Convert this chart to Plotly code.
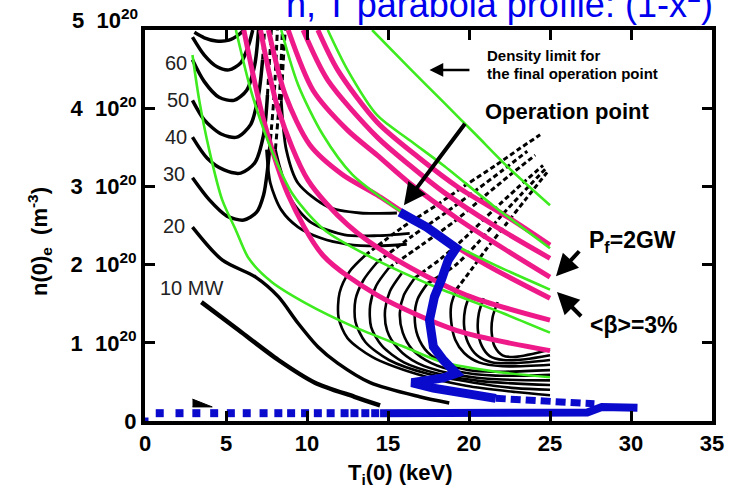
import plotly.graph_objects as go

# ---------------- data: T_i(0) in keV, n(0)_e in 10^20 m^-3 ----------------
# fusion power contours (magenta)
pf1_T = [6.10, 7.32, 8.84, 10.98, 14.33, 19.21, 25.0]
pf1_n = [5.00, 3.85, 2.89, 2.12, 1.61, 1.16, 0.90]
pf2_T = [7.13, 8.23, 10.06, 12.50, 15.55, 19.82, 25.0]
pf2_n = [5.00, 3.98, 3.08, 2.51, 2.06, 1.61, 1.29]
pf3_T = [7.62, 8.66, 10.18, 12.20, 14.33, 17.38, 21.04, 25.0]
pf3_n = [5.00, 4.17, 3.53, 3.15, 2.89, 2.47, 2.00, 1.57]
pf4_T = [8.84, 10.37, 12.50, 14.33, 16.34, 19.21, 22.26, 25.0]
pf4_n = [5.00, 4.23, 3.72, 3.40, 3.04, 2.60, 2.19, 1.84]
pf5_T = [9.76, 11.28, 14.33, 16.34, 18.41, 21.46, 25.0]
pf5_n = [5.00, 4.36, 3.63, 3.27, 2.93, 2.51, 2.08]
pf6_T = [10.67, 11.89, 14.33, 16.95, 19.39, 22.44, 25.0]
pf6_n = [5.00, 4.49, 3.82, 3.36, 2.98, 2.60, 2.25]

# beta contours (green)
b1_T = [2.93, 3.35, 3.96, 4.76, 5.61, 6.40, 7.80, 9.88, 12.93, 15.98, 18.41, 21.65, 25.0]
b1_n = [4.68, 4.10, 3.47, 2.83, 2.44, 2.08, 1.78, 1.51, 1.20, 0.95, 0.75, 0.63, 0.56]
b2_T = [5.61, 6.59, 7.80, 9.15, 11.10, 13.90, 17.99, 22.07, 25.0]
b2_n = [5.00, 4.19, 3.47, 2.89, 2.44, 2.10, 1.71, 1.38, 1.13]
b3_T = [8.41, 9.45, 10.98, 12.80, 15.37, 18.60, 21.65, 25.0]
b3_n = [5.00, 4.30, 3.66, 3.15, 2.74, 2.31, 1.99, 1.68]
b4_T = [11.28, 12.50, 14.33, 16.34, 18.41, 21.46, 25.0]
b4_n = [5.00, 4.49, 3.91, 3.59, 3.27, 2.76, 2.21]
b5_T = [14.02, 16.34, 18.41, 20.43, 22.44, 25.0]
b5_n = [5.00, 4.51, 4.08, 3.66, 3.24, 2.76]

# auxiliary power contours, low-T side (black)
p80_T = [3.05, 3.66, 4.39, 5.18, 5.79, 6.10]
p80_n = [4.97, 4.90, 4.86, 4.87, 4.94, 5.00]
p70_T = [2.93, 3.66, 4.45, 5.18, 5.91, 6.40, 6.65]
p70_n = [4.91, 4.68, 4.53, 4.49, 4.58, 4.81, 5.00]
p60_T = [2.93, 3.66, 4.57, 5.49, 6.28, 6.77, 7.01]
p60_n = [4.62, 4.34, 4.14, 4.10, 4.23, 4.55, 5.00]
p50_T = [2.93, 3.66, 4.70, 5.67, 6.52, 7.01, 7.26]
p50_n = [4.10, 3.85, 3.67, 3.63, 3.79, 4.17, 4.62]
p40_T = [2.93, 3.84, 4.88, 5.91, 6.77, 7.32, 7.56]
p40_n = [3.63, 3.36, 3.21, 3.17, 3.30, 3.66, 4.17]
p30_T = [2.93, 3.96, 5.06, 6.10, 6.89, 7.32, 7.56, 7.74]
p30_n = [3.11, 2.83, 2.62, 2.57, 2.67, 2.89, 3.21, 3.59]
p20_T = [2.93, 4.76, 6.83, 8.23, 9.45, 10.67, 11.89, 13.90, 16.95, 18.78]
p20_n = [2.48, 2.06, 1.84, 1.59, 1.25, 0.95, 0.74, 0.49, 0.31, 0.23]
p10_T = [3.48, 5.79, 8.23, 10.49, 12.93, 14.51]
p10_n = [1.52, 1.16, 0.78, 0.49, 0.31, 0.20]

# near-ignition (dashed) branches
v1_T = [7.26, 7.38]
v1_n = [4.62, 5.00]
v2_T = [7.56, 7.80]
v2_n = [4.17, 5.00]
v3_T = [7.74, 7.99, 8.17]
v3_n = [3.59, 4.23, 5.00]
v4_T = [8.05, 8.29, 8.48]
v4_n = [3.47, 4.10, 5.00]
v5_T = [8.41, 8.54, 8.66]
v5_n = [4.10, 4.62, 5.00]

# high-T side branches
r1_T = [8.41, 8.72, 9.45, 11.28, 13.29, 15.55]
r1_n = [4.10, 3.47, 3.04, 2.74, 2.66, 2.66]
r2_T = [8.05, 8.29, 9.02, 10.24, 12.32, 14.33, 16.34]
r2_n = [3.47, 3.27, 2.83, 2.54, 2.38, 2.37, 2.40]
r3_T = [7.50, 7.74, 8.41, 9.45, 10.85, 12.50, 14.33, 16.16]
r3_n = [3.47, 3.04, 2.70, 2.48, 2.34, 2.26, 2.24, 2.26]

# nested contours around the operating region
c1_T = [13.60, 12.62, 12.01, 11.95, 12.50, 14.02, 16.77, 19.82, 22.87, 25.0]
c1_n = [2.12, 1.91, 1.64, 1.32, 1.06, 0.82, 0.60, 0.45, 0.37, 0.33]
c2_T = [14.33, 13.48, 12.99, 12.99, 13.60, 15.06, 17.50, 20.30, 22.87, 25.0]
c2_n = [2.03, 1.80, 1.55, 1.27, 1.01, 0.78, 0.60, 0.49, 0.42, 0.40]
c3_T = [15.06, 14.27, 13.90, 13.96, 14.63, 15.98, 18.17, 20.73, 25.0]
c3_n = [1.96, 1.73, 1.48, 1.20, 0.96, 0.75, 0.60, 0.51, 0.46]
c4_T = [15.85, 15.12, 14.82, 14.94, 15.61, 16.83, 18.78, 21.16, 25.0]
c4_n = [1.89, 1.66, 1.42, 1.16, 0.93, 0.74, 0.61, 0.54, 0.52]
c5_T = [16.65, 15.98, 15.73, 15.91, 16.52, 17.68, 19.39, 21.65, 25.0]
c5_n = [1.83, 1.61, 1.38, 1.13, 0.91, 0.74, 0.63, 0.58, 0.59]
c6_T = [17.44, 16.83, 16.65, 16.83, 17.44, 18.48, 20.00, 22.13, 25.0]
c6_n = [1.76, 1.56, 1.34, 1.09, 0.88, 0.74, 0.65, 0.63, 0.65]
c7_T = [19.21, 18.90, 18.90, 19.15, 19.70, 20.61, 22.07, 25.0]
c7_n = [1.68, 1.48, 1.27, 1.04, 0.87, 0.75, 0.70, 0.72]
c8_T = [20.06, 19.76, 19.70, 19.94, 20.49, 21.40, 22.87, 25.0]
c8_n = [1.62, 1.43, 1.21, 1.00, 0.84, 0.75, 0.74, 0.78]
c9_T = [20.91, 20.61, 20.55, 20.79, 21.28, 22.13, 23.48, 25.0]
c9_n = [1.57, 1.38, 1.16, 0.96, 0.83, 0.78, 0.79, 0.84]
c10_T = [21.77, 21.46, 21.40, 21.59, 22.07, 22.87, 25.0]
c10_n = [1.52, 1.33, 1.13, 0.95, 0.84, 0.82, 0.91]

# dashed upper parts (hatched cone)
d1_T = [13.60, 15.85, 17.99, 19.82, 21.65, 23.17, 24.39]
d1_n = [2.12, 2.47, 2.76, 3.02, 3.27, 3.49, 3.66]
d2_T = [15.06, 17.07, 19.21, 21.04, 22.56, 24.09]
d2_n = [1.96, 2.25, 2.57, 2.89, 3.15, 3.40]
d3_T = [16.65, 18.29, 19.94, 21.52, 22.99, 24.57]
d3_n = [1.83, 2.08, 2.38, 2.70, 2.98, 3.27]
d4_T = [19.21, 20.12, 21.04, 22.26, 23.48, 24.82]
d4_n = [1.68, 1.93, 2.19, 2.51, 2.83, 3.18]
d5_T = [14.33, 16.46, 18.60, 20.43, 22.10, 23.60]
d5_n = [2.03, 2.36, 2.67, 2.95, 3.21, 3.45]
d6_T = [17.44, 19.21, 20.55, 21.89, 23.23, 24.70]
d6_n = [1.76, 2.00, 2.28, 2.60, 2.90, 3.22]

# operation path (blue)
op_T = [15.73, 17.38, 19.21, 18.72, 18.29, 17.87, 17.56, 17.80, 18.41, 19.21,
        18.41, 16.95, 16.46, 17.80, 20.00, 21.65]
op_n = [2.67, 2.48, 2.21, 2.06, 1.80, 1.59, 1.29, 0.95, 0.78, 0.61,
        0.55, 0.52, 0.49, 0.42, 0.36, 0.29]
opt_T = [21.65, 25.0, 27.74]
opt_n = [0.29, 0.26, 0.22]
st_T = [0.91, 2.13, 3.17, 4.27, 5.30, 6.28, 7.32, 8.23, 9.02, 9.88,
        10.67, 11.46, 12.32, 12.93, 13.60, 14.21]
st_n = [0.10, 0.10, 0.10, 0.10, 0.10, 0.10, 0.10, 0.10, 0.10, 0.10,
        0.10, 0.10, 0.10, 0.10, 0.10, 0.10]
bt_T = [14.51, 20.0, 27.3, 28.2, 30.4]
bt_n = [0.10, 0.10, 0.11, 0.18, 0.17]
wedge_T = [2.93, 4.15, 2.93]
wedge_n = [0.28, 0.18, 0.18]

x_ticks = [0, 5, 10, 15, 20, 25, 30, 35]
y_ticks = [0, 1, 2, 3, 4]
y_ticktext = ["0", "1\u00a0\u00a010<sup>20</sup>", "2\u00a0\u00a010<sup>20</sup>",
              "3\u00a0\u00a010<sup>20</sup>", "4\u00a0\u00a010<sup>20</sup>"]

MAG = "#EF1A8A"
GRN = "#3DEB1E"
BLU = "#0A0ACD"
FONT = "Liberation Sans, Arial, sans-serif"

fig = go.Figure()


def add(T, n, color, width, dash=None, shape="spline"):
    fig.add_trace(go.Scatter(x=T, y=n, mode="lines",
                             line=dict(color=color, width=width, dash=dash, shape=shape, smoothing=0.8),
                             hoverinfo="skip"))


for T, n in [(p80_T, p80_n), (p70_T, p70_n), (p60_T, p60_n), (p50_T, p50_n),
             (p40_T, p40_n), (p30_T, p30_n), (p20_T, p20_n)]:
    add(T, n, "black", 3.5)
add(p10_T, p10_n, "black", 4.5)
for T, n in [(v1_T, v1_n), (v2_T, v2_n), (v3_T, v3_n), (v4_T, v4_n), (v5_T, v5_n)]:
    add(T, n, "black", 3, dash="6px,4px")
for T, n in [(r1_T, r1_n), (r2_T, r2_n), (r3_T, r3_n)]:
    add(T, n, "black", 2.8)
for T, n in [(c1_T, c1_n), (c2_T, c2_n), (c3_T, c3_n), (c4_T, c4_n), (c5_T, c5_n),
             (c6_T, c6_n), (c7_T, c7_n), (c8_T, c8_n), (c9_T, c9_n), (c10_T, c10_n)]:
    add(T, n, "black", 2.6)
for T, n in [(d1_T, d1_n), (d2_T, d2_n), (d3_T, d3_n), (d4_T, d4_n), (d5_T, d5_n), (d6_T, d6_n)]:
    add(T, n, "black", 3, dash="5px,3px")

fig.add_trace(go.Scatter(x=wedge_T, y=wedge_n, mode="lines", fill="toself",
                         fillcolor="black", line=dict(color="black", width=1), hoverinfo="skip"))

for T, n in [(pf1_T, pf1_n), (pf2_T, pf2_n), (pf3_T, pf3_n), (pf4_T, pf4_n),
             (pf5_T, pf5_n), (pf6_T, pf6_n)]:
    add(T, n, MAG, 5)
for T, n in [(b1_T, b1_n), (b2_T, b2_n), (b3_T, b3_n), (b4_T, b4_n), (b5_T, b5_n)]:
    add(T, n, GRN, 2.6)

add(bt_T, bt_n, BLU, 8, shape="linear")
fig.add_trace(go.Scatter(x=st_T, y=st_n, mode="markers",
                         marker=dict(symbol="square", size=8, color=BLU), hoverinfo="skip"))
add(opt_T, opt_n, BLU, 7, dash="10px,5px", shape="linear")
add(op_T, op_n, BLU, 9, shape="linear")
fig.add_trace(go.Scatter(x=[0], y=[0], mode="markers", cliponaxis=False,
                         marker=dict(symbol="square", size=7, color=BLU), hoverinfo="skip"))

ann = []


def text(x, y, s, size, bold=True, color="black", **kw):
    ann.append(dict(x=x, y=y, xref="x", yref="y", text=s, showarrow=False,
                    font=dict(family=FONT, size=size, color=color,
                              weight="bold" if bold else "normal"), **kw))


def ptext(x, y, s, size, bold=True, color="black", **kw):
    ann.append(dict(x=x, y=y, xref="paper", yref="paper", text=s, showarrow=False,
                    font=dict(family=FONT, size=size, color=color,
                              weight="bold" if bold else "normal"), **kw))


def arrow(x, y, ax, ay, width):
    ann.append(dict(x=x, y=y, ax=ax, ay=ay, xref="x", yref="y", axref="x", ayref="y",
                    text="", showarrow=True, arrowhead=2, arrowsize=1.1,
                    arrowwidth=width, arrowcolor="black", standoff=0))


text(1.89, 4.58, "60", 20, bold=False, color="#222222")
text(2.01, 4.10, "50", 20, bold=False, color="#222222")
text(1.89, 3.63, "40", 20, bold=False, color="#222222")
text(1.77, 3.16, "30", 20, bold=False, color="#222222")
text(1.77, 2.49, "20", 20, bold=False, color="#222222")
text(2.87, 1.70, "10 MW", 20, bold=False, color="#222222")
text(20.98, 4.68, "Density limit for", 15, xanchor="left")
text(20.98, 4.45, "the final operation point", 15, xanchor="left")
text(26.04, 3.96, "Operation point", 22)
text(30.12, 2.29, "P<sub>f</sub>=2GW", 23)
text(30.18, 1.23, "&lt;β&gt;=3%", 23)
arrow(17.56, 4.49, 20.12, 4.49, 2.5)
arrow(15.98, 2.76, 19.82, 3.82, 4)
arrow(25.37, 1.85, 26.89, 2.19, 4)
arrow(25.43, 1.65, 27.01, 1.32, 4)

# title (partly cut by the top edge), axis titles, top y label
ptext(0.625, 1.135, "n, T parabola profile: (1-x<sup>2</sup>)", 36, bold=False, color="#0000EE")
ptext(0.451, -0.177, "T<sub>i</sub>(0) (keV)", 22)
ptext(-0.218, 0.46, "n(0)<sub>e</sub>  (m<sup>-3</sup>)", 22, textangle=-90)
ptext(0, 1.068, "5\u00a0\u00a010<sup>20</sup>", 22, xanchor="right", xshift=-5)

fig.update_layout(
    width=736, height=502,
    margin=dict(l=145, r=17, t=30, b=81),
    paper_bgcolor="white", plot_bgcolor="white",
    showlegend=False,
    annotations=ann,
    xaxis=dict(range=[0, 35], tickvals=x_ticks, showgrid=False, zeroline=False,
               showline=True, linewidth=4, linecolor="black", mirror="ticks",
               ticks="inside", ticklen=10, tickwidth=3, tickcolor="black",
               tickfont=dict(family=FONT, size=22, color="black", weight="bold")),
    yaxis=dict(range=[0, 5], tickvals=y_ticks, ticktext=y_ticktext, showgrid=False,
               zeroline=False, showline=True, linewidth=4, linecolor="black", mirror="ticks",
               ticks="inside", ticklen=10, tickwidth=3, tickcolor="black",
               tickfont=dict(family=FONT, size=22, color="black", weight="bold")),
)

fig.write_html("out.html")
